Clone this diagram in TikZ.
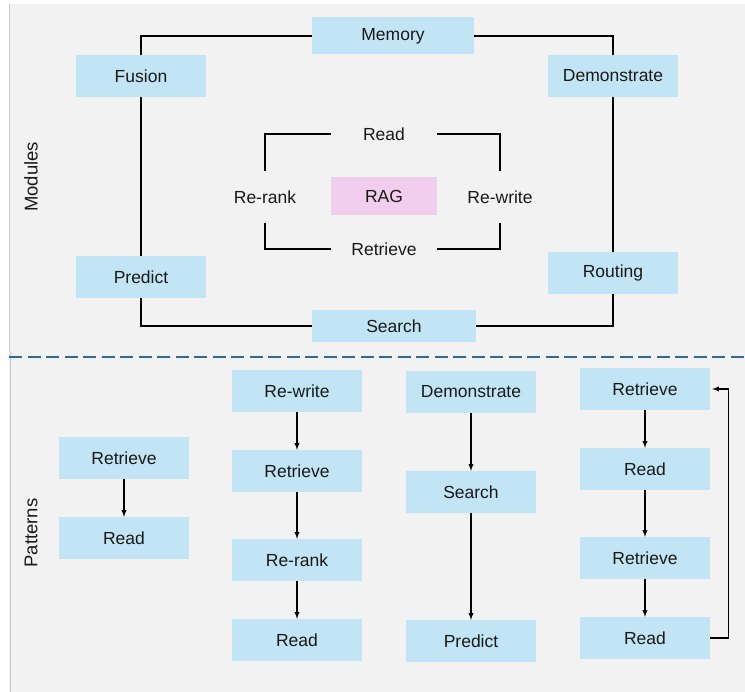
\documentclass[tikz,border=0pt]{standalone}
\usepackage{fontspec}
\setmainfont{Liberation Sans}
\usetikzlibrary{arrows,positioning}
\definecolor{panelgrey}{HTML}{F2F2F2}
\definecolor{edgegrey}{HTML}{C8C8C8}
\definecolor{boxblue}{HTML}{C2E5F5}
\definecolor{ragpink}{HTML}{F2CEEE}
\definecolor{splitblue}{HTML}{2E6A8C}
\pgfdeclarelayer{panel}
\pgfdeclarelayer{wires}
\pgfsetlayers{panel,wires,main}

\begin{document}
\begin{tikzpicture}[x=1pt,y=-1pt,>=latex,
  font=\fontsize{17.5}{20}\selectfont,text=black!90,
  mod/.style={fill=boxblue,inner sep=0pt,minimum width=130pt,minimum height=42pt},
  stage/.style={inner sep=0pt,minimum width=106pt,minimum height=52pt},
  wire/.style={line width=1.6pt},
  flow/.style={->,line width=1.3pt}]
\useasboundingbox (0,0) rectangle (745,692);
\begin{pgfonlayer}{panel}
\fill[panelgrey] (9,4) rectangle (745,692);
\draw[edgegrey,line width=1pt] (9.5,4) -- (9.5,352);
\draw[edgegrey,line width=1pt] (10.5,352) -- (10.5,692);
\draw[splitblue,line width=2pt,dash pattern=on 13pt off 5.5pt] (9,357) -- (745,357);
\end{pgfonlayer}

% modules
\node[rotate=90,font=\fontsize{18.5}{20}\selectfont] (modlabel) at (31,177) {Modules};
\node[mod,minimum width=162pt,minimum height=37pt] (memory) at (393,36) {Memory};
\node[mod] (fusion) at (141,76) {Fusion};
\node[mod] (demo) at (613,76) {Demonstrate};
\node[mod] (predict) at (141,277) {Predict};
\node[mod] (routing) at (613,273) {Routing};
\node[mod,minimum width=164pt,minimum height=32pt] (search) at (394,326) {Search};
\node[fill=ragpink,inner sep=0pt,minimum width=106pt,minimum height=38pt] (rag) at (384,196) {RAG};
\node[stage] (read) at (384,134) {Read};
\node[stage] (rerank) at (265,197) {Re-rank};
\node[stage] (rewrite) at (500,197) {Re-write};
\node[stage] (retrieve) at (384,249) {Retrieve};
\begin{pgfonlayer}{wires}
\draw[wire] (fusion.center) |- (memory.center) -| (demo.center) -- (routing.center)
  |- (search.center) -| (predict.center) -- cycle;
\end{pgfonlayer}
\draw[wire] (read.west) -| (rerank.north);
\draw[wire] (read.east) -| (rewrite.north);
\draw[wire] (retrieve.west) -| (rerank.south);
\draw[wire] (retrieve.east) -| (rewrite.south);

% patterns
\node[rotate=90,font=\fontsize{18.5}{20}\selectfont] (patlabel) at (31,533) {Patterns};
\node[mod] (naiveret) at (124,458) {Retrieve};
\node[mod] (naiveread) at (124,538) {Read};
\draw[flow] (naiveret) -- (naiveread);

\node[mod] (advwrite) at (297,391) {Re-write};
\node[mod] (advret) at (297,471) {Retrieve};
\node[mod] (advrank) at (297,560) {Re-rank};
\node[mod] (advread) at (297,640) {Read};
\draw[flow] (advwrite) -- (advret);
\draw[flow] (advret) -- (advrank);
\draw[flow] (advrank) -- (advread);

\node[mod] (dsdemo) at (471,392) {Demonstrate};
\node[mod] (dssearch) at (471,492) {Search};
\node[mod] (dspredict) at (471,641) {Predict};
\draw[flow] (dsdemo) -- (dssearch);
\draw[flow] (dssearch) -- (dspredict);

\node[mod] (iterret) at (645,389) {Retrieve};
\node[mod] (iterread) at (645,469) {Read};
\node[mod] (iterretb) at (645,558) {Retrieve};
\node[mod] (iterreadb) at (645,638) {Read};
\draw[flow] (iterret) -- (iterread);
\draw[flow] (iterread) -- (iterretb);
\draw[flow] (iterretb) -- (iterreadb);
\draw[flow,shorten >=2pt] (iterreadb.east) -- ++(18.5,0) |- (iterret.east);
\end{tikzpicture}
\end{document}
